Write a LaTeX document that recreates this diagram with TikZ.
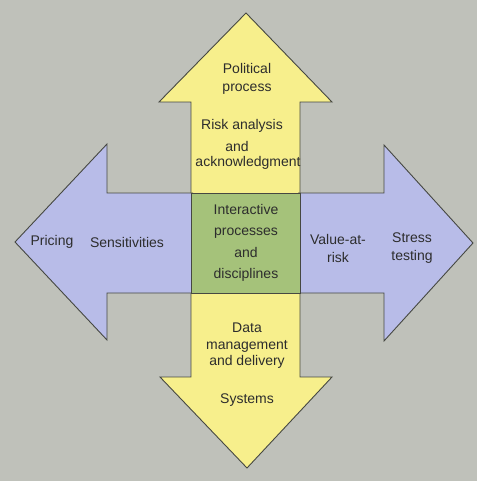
\documentclass[tikz,border=0pt]{standalone}
\usepackage{fontspec}
\setmainfont{Liberation Sans}
\definecolor{bggray}{RGB}{191,193,186}
\definecolor{arrowyellow}{RGB}{247,239,140}
\definecolor{arrowblue}{RGB}{184,188,232}
\definecolor{coregreen}{RGB}{165,194,122}
\definecolor{edgegray}{RGB}{70,72,66}
\definecolor{inkgray}{RGB}{45,45,45}
\begin{document}
\begin{tikzpicture}[x=1pt,y=-1pt,
  outline/.style={draw=edgegray,line width=0.9pt,line join=miter},
  txt/.style={text=inkgray,font=\fontsize{14}{18}\selectfont,align=center,inner sep=0pt},
  tighttxt/.style={txt,font=\fontsize{14}{16.5}\selectfont}]
% background
\fill[bggray] (0,0) rectangle (477,481);
\useasboundingbox (0,0) rectangle (477,481);
% four arrows
\filldraw[outline,fill=arrowyellow] (191,195) -- (191,102) -- (159,102) -- (246,13) -- (332,102) -- (300,102) -- (300,195);
\filldraw[outline,fill=arrowyellow] (191,291) -- (191,377) -- (160,377) -- (247,468) -- (332,377) -- (300,377) -- (300,291);
\filldraw[outline,fill=arrowblue] (193,193) -- (107,193) -- (107,144) -- (15,242) -- (107,340) -- (107,293) -- (193,293);
\filldraw[outline,fill=arrowblue] (298,193) -- (384,193) -- (384,145) -- (473,243) -- (384,341) -- (384,293) -- (298,293);
% central square
\filldraw[outline,fill=coregreen] (191,193) rectangle (300,293);
% text
\node[txt] (political) at (247,79) {Political\\process};
\node[txt] (riskA) at (242,126) {Risk analysis};
\node[txt] (riskB) at (237,146) {and};
\node[txt] (riskC) at (248,163) {acknowledgment};
\node[txt,font=\fontsize{14}{21.5}\selectfont] (core) at (246,243) {Interactive\\processes\\and\\disciplines};
\node[txt] (pricing) at (52,242) {Pricing};
\node[txt] (sens) at (127,242) {Sensitivities};
\node[txt] (var) at (338,248) {Value-at-\\risk};
\node[txt] (stress) at (412,248) {Stress\\testing};
\node[tighttxt] (data) at (247,346) {Data\\management\\and delivery};
\node[txt] (systems) at (247,400) {Systems};
\end{tikzpicture}
\end{document}
